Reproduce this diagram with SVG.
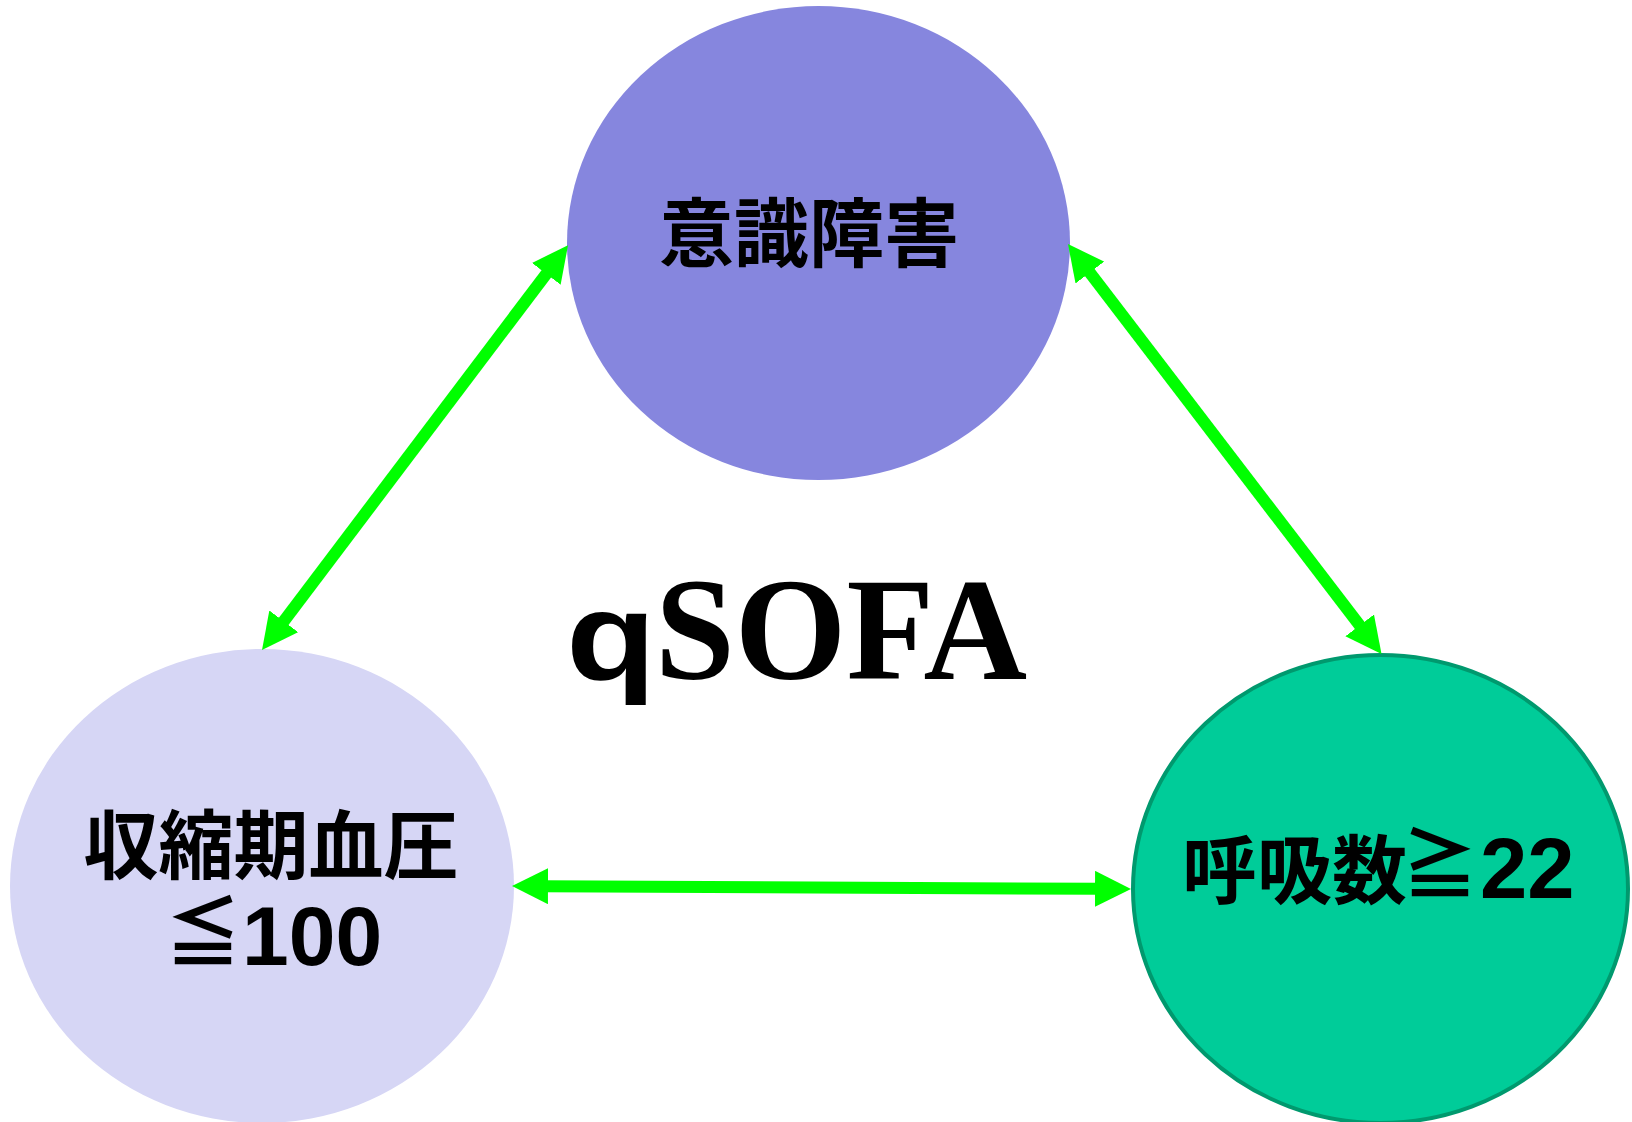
<svg xmlns="http://www.w3.org/2000/svg" width="1632" height="1122" viewBox="0 0 1632 1122">
<defs>
<style>
.cjk{font-family:"Noto Sans CJK JP","Noto Sans CJK SC",sans-serif;font-weight:bold;font-size:75px;fill:#000}
.num{font-family:"Liberation Sans",Arial,sans-serif;font-weight:bold;fill:#000}
.conn{stroke:#00ff00;stroke-width:12;fill:none;marker-start:url(#ah);marker-end:url(#ah)}
</style>
<marker id="ah" viewBox="0 0 36 36" markerWidth="36" markerHeight="36" refX="6" refY="18" orient="auto-start-reverse" markerUnits="userSpaceOnUse">
<path d="M0,0 L36,18 L0,36 z" fill="#00ff00"/>
</marker>
</defs>
<rect width="1632" height="1122" fill="#ffffff"/>
<g id="node-ishiki">
<ellipse cx="818.5" cy="243" rx="251.5" ry="237" fill="#8686de"/>
<text class="cjk" x="809" y="261" text-anchor="middle">意識障害</text>
</g>
<g id="node-ketsuatsu">
<ellipse cx="262" cy="886" rx="252" ry="237" fill="#d6d6f5"/>
<text class="cjk"><tspan x="271" y="873" text-anchor="middle">収縮期血圧</tspan><tspan x="203" y="960" text-anchor="middle" font-size="76">≦</tspan><tspan class="num" x="242" y="965" font-size="84">100</tspan></text>
</g>
<g id="node-kokyu">
<ellipse cx="1380.5" cy="889" rx="247.5" ry="234" fill="#00cc99" stroke="#00996e" stroke-width="4"/>
<text class="cjk"><tspan x="1182" y="898">呼吸数</tspan><tspan x="1440" y="892" text-anchor="middle" font-size="76">≧</tspan><tspan class="num" x="1480" y="898" font-size="85">22</tspan></text>
</g>
<g id="title">
<text x="566" y="679" font-family="Liberation Sans, Arial, sans-serif" font-weight="bold" font-size="124" textLength="90" lengthAdjust="spacingAndGlyphs">q</text>
<text x="655" y="679" font-family="Liberation Serif, 'Times New Roman', serif" font-weight="bold" font-size="146" textLength="372" lengthAdjust="spacingAndGlyphs">SOFA</text>
</g>
<g id="connectors">
<line class="conn" x1="280.1" y1="626.1" x2="549.9" y2="269.1"/>
<line class="conn" x1="1086.2" y1="267.8" x2="1363.3" y2="630.2"/>
<line class="conn" x1="542" y1="886.15" x2="1101" y2="888.85"/>
</g>
</svg>
